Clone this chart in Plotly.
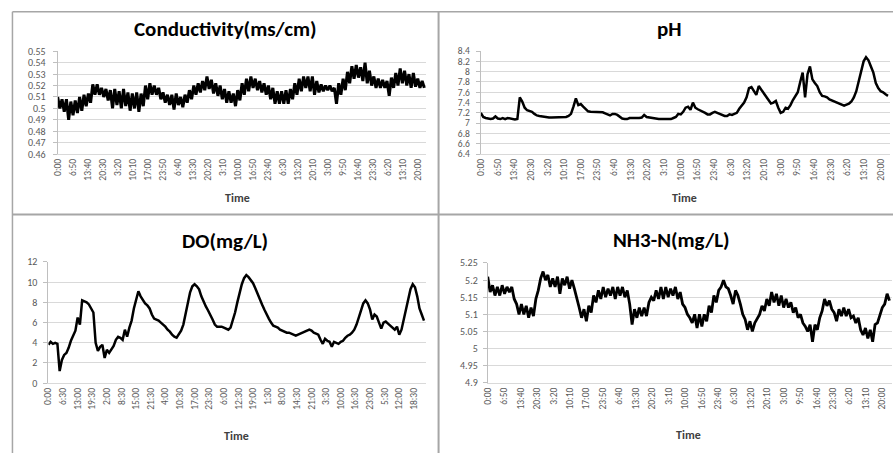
import plotly.graph_objects as go

# ---------------- data (hourly readings) ----------------
time_labels = ["0:00", "6:50", "13:40", "20:30", "3:20", "10:10", "17:00", "23:50", "6:40",
               "13:30", "20:20", "3:10", "10:00", "16:50", "23:40", "6:30", "13:20", "20:10",
               "3:00", "9:50", "16:40", "23:30", "6:20", "13:10", "20:00"]
do_time_labels = ["0:00", "6:30", "13:00", "19:30", "2:00", "8:30", "15:00", "21:30", "4:00",
                  "10:30", "17:00", "23:30", "6:00", "12:30", "19:00", "1:30", "8:00", "14:30",
                  "21:00", "3:30", "10:00", "16:30", "23:00", "5:30", "12:00", "18:30"]

conductivity = [
    0.510, 0.500, 0.508, 0.497, 0.508, 0.490, 0.506, 0.494, 0.507, 0.496, 0.510, 0.498,
    0.512, 0.502, 0.513, 0.505, 0.521, 0.512, 0.521, 0.512, 0.518, 0.510, 0.517, 0.507,
    0.516, 0.500, 0.517, 0.503, 0.515, 0.500, 0.517, 0.502, 0.514, 0.498, 0.513, 0.500,
    0.514, 0.497, 0.513, 0.502, 0.520, 0.508, 0.522, 0.512, 0.520, 0.512, 0.518, 0.508,
    0.514, 0.505, 0.512, 0.503, 0.512, 0.499, 0.513, 0.503, 0.510, 0.501, 0.512, 0.505,
    0.516, 0.508, 0.520, 0.512, 0.522, 0.514, 0.524, 0.516, 0.528, 0.517, 0.525, 0.513,
    0.522, 0.511, 0.520, 0.508, 0.517, 0.505, 0.515, 0.505, 0.513, 0.502, 0.516, 0.507,
    0.522, 0.512, 0.526, 0.515, 0.528, 0.518, 0.526, 0.516, 0.524, 0.514, 0.522, 0.512,
    0.520, 0.508, 0.518, 0.504, 0.515, 0.504, 0.515, 0.504, 0.516, 0.504, 0.517, 0.508,
    0.522, 0.512, 0.526, 0.515, 0.528, 0.518, 0.528, 0.515, 0.528, 0.512, 0.524, 0.514,
    0.521, 0.515, 0.520, 0.516, 0.520, 0.515, 0.518, 0.504, 0.522, 0.512, 0.526, 0.516,
    0.532, 0.522, 0.537, 0.526, 0.538, 0.527, 0.536, 0.524, 0.540, 0.522, 0.533, 0.520,
    0.528, 0.518, 0.526, 0.518, 0.525, 0.518, 0.524, 0.511, 0.527, 0.518, 0.531, 0.520,
    0.535, 0.522, 0.533, 0.520, 0.530, 0.518, 0.531, 0.519, 0.526, 0.518, 0.524, 0.518,
]

ph = [
    7.20, 7.12, 7.10, 7.09, 7.08, 7.09, 7.13, 7.09, 7.08, 7.10, 7.08, 7.10,
    7.09, 7.08, 7.07, 7.08, 7.50, 7.42, 7.30, 7.25, 7.24, 7.22, 7.18, 7.15,
    7.14, 7.13, 7.12, 7.11, 7.11, 7.11, 7.11, 7.11, 7.11, 7.11, 7.11, 7.12,
    7.14, 7.18, 7.32, 7.48, 7.35, 7.37, 7.32, 7.27, 7.23, 7.22, 7.22, 7.22,
    7.22, 7.22, 7.21, 7.19, 7.17, 7.15, 7.18, 7.18, 7.16, 7.12, 7.09, 7.08,
    7.08, 7.10, 7.10, 7.10, 7.09, 7.10, 7.11, 7.16, 7.12, 7.11, 7.10, 7.09,
    7.09, 7.08, 7.08, 7.08, 7.07, 7.08, 7.08, 7.10, 7.12, 7.18, 7.17, 7.22,
    7.30, 7.32, 7.26, 7.40, 7.30, 7.27, 7.25, 7.22, 7.20, 7.17, 7.17, 7.20,
    7.22, 7.20, 7.18, 7.16, 7.14, 7.14, 7.17, 7.16, 7.18, 7.20, 7.28, 7.35,
    7.40, 7.50, 7.68, 7.70, 7.62, 7.55, 7.72, 7.65, 7.60, 7.52, 7.45, 7.38,
    7.40, 7.43, 7.30, 7.20, 7.22, 7.30, 7.28, 7.35, 7.45, 7.52, 7.60, 7.80,
    7.98, 7.50, 7.95, 8.10, 7.85, 7.78, 7.72, 7.60, 7.53, 7.52, 7.50, 7.46,
    7.44, 7.42, 7.40, 7.38, 7.35, 7.34, 7.36, 7.38, 7.42, 7.50, 7.62, 7.80,
    8.00, 8.20, 8.28, 8.22, 8.10, 7.98, 7.78, 7.68, 7.62, 7.60, 7.56, 7.53,
]

do = [
    3.8, 4.1, 3.9, 4.0, 3.9, 1.2, 2.3, 2.8, 3.0, 3.5, 4.2, 4.8,
    5.2, 6.5, 5.8, 8.2, 8.1, 8.0, 7.8, 7.4, 7.0, 4.0, 3.2, 3.6,
    3.8, 2.5, 3.3, 3.0, 3.4, 3.7, 4.3, 4.6, 4.5, 4.3, 5.3, 4.6,
    5.5, 6.2, 7.4, 8.3, 9.1, 8.6, 8.2, 7.9, 7.7, 7.4, 6.8, 6.4,
    6.3, 6.2, 6.0, 5.8, 5.6, 5.3, 5.1, 4.8, 4.6, 4.5, 4.8, 5.2,
    5.8, 7.0, 8.2, 9.0, 9.6, 9.8, 9.6, 9.3, 8.6, 8.0, 7.6, 7.2,
    6.8, 6.3, 5.8, 5.6, 5.6, 5.6, 5.5, 5.4, 5.3, 5.5, 6.2, 7.0,
    8.0, 9.0, 9.8, 10.4, 10.7, 10.5, 10.2, 9.9, 9.4, 8.8, 8.2, 7.8,
    7.3, 6.8, 6.4, 6.0, 5.7, 5.6, 5.5, 5.3, 5.2, 5.1, 5.0, 5.0,
    4.9, 4.8, 4.7, 4.8, 4.9, 5.0, 5.1, 5.2, 5.3, 5.2, 5.0, 4.9,
    4.8, 4.3, 3.9, 4.4, 4.2, 4.1, 3.6, 4.1, 4.0, 3.9, 4.1, 4.2,
    4.5, 4.7, 4.8, 5.0, 5.3, 5.8, 6.5, 7.2, 7.9, 8.2, 7.9, 7.3,
    6.3, 6.8, 6.6, 6.0, 5.4, 6.0, 6.1, 5.9, 5.7, 5.5, 5.3, 5.6,
    4.8, 5.3, 6.3, 7.3, 8.2, 9.3, 9.8, 9.5, 8.6, 7.4, 6.8, 6.2,
]

nh3n = [
    5.21, 5.165, 5.185, 5.155, 5.18, 5.155, 5.185, 5.16, 5.18, 5.165, 5.18, 5.145,
    5.13, 5.10, 5.13, 5.10, 5.125, 5.09, 5.12, 5.095, 5.145, 5.17, 5.205, 5.225,
    5.20, 5.215, 5.18, 5.205, 5.18, 5.21, 5.16, 5.205, 5.185, 5.21, 5.175, 5.20,
    5.175, 5.15, 5.12, 5.09, 5.115, 5.08, 5.125, 5.105, 5.155, 5.135, 5.17, 5.145,
    5.18, 5.15, 5.175, 5.155, 5.18, 5.145, 5.18, 5.155, 5.18, 5.15, 5.17, 5.13,
    5.07, 5.115, 5.09, 5.12, 5.095, 5.12, 5.095, 5.135, 5.15, 5.14, 5.17, 5.145,
    5.18, 5.145, 5.18, 5.15, 5.175, 5.155, 5.18, 5.145, 5.165, 5.13, 5.12, 5.10,
    5.09, 5.075, 5.10, 5.06, 5.10, 5.065, 5.10, 5.08, 5.125, 5.105, 5.155, 5.135,
    5.17, 5.18, 5.20, 5.18, 5.175, 5.155, 5.13, 5.17, 5.155, 5.13, 5.10, 5.085,
    5.055, 5.08, 5.05, 5.075, 5.09, 5.10, 5.125, 5.11, 5.145, 5.125, 5.165, 5.135,
    5.16, 5.125, 5.155, 5.12, 5.145, 5.12, 5.135, 5.105, 5.12, 5.09, 5.10, 5.075,
    5.065, 5.05, 5.07, 5.02, 5.07, 5.055, 5.09, 5.11, 5.145, 5.125, 5.14, 5.115,
    5.105, 5.08, 5.115, 5.095, 5.12, 5.095, 5.115, 5.09, 5.095, 5.075, 5.09, 5.055,
    5.04, 5.06, 5.03, 5.055, 5.02, 5.07, 5.075, 5.10, 5.12, 5.13, 5.16, 5.14,
]

cond_yticks = ["0.46", "0.47", "0.48", "0.49", "0.5", "0.51", "0.52", "0.53", "0.54", "0.55"]
ph_yticks = ["6.4", "6.6", "6.8", "7", "7.2", "7.4", "7.6", "7.8", "8", "8.2", "8.4"]
do_yticks = ["0", "2", "4", "6", "8", "10", "12"]
nh3_yticks = ["4.9", "4.95", "5", "5.05", "5.1", "5.15", "5.2", "5.25"]

titles = ["Conductivity(ms/cm)", "pH", "DO(mg/L)", "NH3-N(mg/L)"]
x_title = "Time"


# ---------------- helpers ----------------
def label_hours(labels):
    """Elapsed hours of each clock label, rolling over midnight."""
    out, day, prev = [], 0, -1
    for lab in labels:
        h, m = lab.split(":")
        mins = int(h) * 60 + int(m)
        if mins < prev:
            day += 1
        prev = mins
        out.append((day * 1440 + mins) / 60.0)
    return out


W, H = 893, 460
FONT = "Carlito, Lato, 'Liberation Sans', sans-serif"
TICKC = "#595959"
GRID = "#d9d9d9"


def px(x):
    return x / W


def py(y):
    return 1 - y / H


panels = [
    # values, x labels, y tick texts, plot box px (x0, x1, ytop, ybottom), line width,
    # y tick font size, y label standoff
    (conductivity, time_labels, cond_yticks, (52, 423, 45.7, 151.7), 3.0, 10, 5),
    (ph, time_labels, ph_yticks, (478, 890, 45.4, 151.7), 2.5, 9.5, 4),
    (do, do_time_labels, do_yticks, (42.7, 422.7, 263.0, 388.0), 2.5, 10, 4),
    (nh3n, time_labels, nh3_yticks, (485, 891.5, 264.0, 387.7), 2.8, 10, 3),
]

fig = go.Figure()
layout = {}
annotations = []
for i, (vals, xl, yl, box, lw, yfs, ystand) in enumerate(panels):
    n = i + 1
    xa = "xaxis" if n == 1 else f"xaxis{n}"
    ya = "yaxis" if n == 1 else f"yaxis{n}"
    hours = list(range(len(vals)))
    fig.add_trace(go.Scatter(
        x=hours, y=vals, mode="lines",
        line=dict(color="black", width=lw),
        xaxis=f"x{n}" if n > 1 else "x", yaxis=f"y{n}" if n > 1 else "y",
        showlegend=False, hoverinfo="skip"))
    x0, x1, yt, yb = box
    yv = [float(t) for t in yl]
    layout[xa] = dict(
        domain=[px(x0), px(x1)], anchor=f"y{n}" if n > 1 else "y",
        range=[0, len(vals) - 1 + 5 / 6], showgrid=False, zeroline=False,
        showline=True, linecolor=GRID, linewidth=1,
        tickmode="array", tickvals=label_hours(xl), ticktext=xl,
        tickangle=-90, ticks="", ticklen=0,
        tickfont=dict(family=FONT, size=9.5, color=TICKC),
    )
    layout[ya] = dict(
        domain=[py(yb), py(yt)], anchor=f"x{n}" if n > 1 else "x",
        range=[yv[0], yv[-1]], showgrid=True, gridcolor=GRID, gridwidth=1,
        zeroline=False, showline=True, linecolor="#bfbfbf", linewidth=1,
        ticks="outside", ticklen=4, tickcolor="#bfbfbf", ticklabelstandoff=ystand,
        tickmode="array", tickvals=yv, ticktext=yl,
        tickfont=dict(family=FONT, size=yfs, color=TICKC),
    )

# titles and axis titles
title_pos = [(221, 23), (668, 23), (220, 241), (670, 240)]
time_pos = [(233, 197), (683, 197), (232, 442), (687, 441)]
for t, (tx, ty) in zip(titles, title_pos):
    annotations.append(dict(text=f"<b>{t}</b>", x=px(tx), y=py(ty), xref="paper", yref="paper",
                            showarrow=False, xanchor="center", yanchor="middle",
                            font=dict(family=FONT, size=21, color="black")))
for (tx, ty) in time_pos:
    annotations.append(dict(text=f"<b>{x_title}</b>", x=px(tx), y=py(ty), xref="paper",
                            yref="paper", showarrow=False, xanchor="center", yanchor="middle",
                            font=dict(family=FONT, size=12, color="#404040")))

BORDER = "#a6a6a6"
shapes = [
    dict(type="line", xref="paper", yref="paper", x0=px(6.5), x1=1, y0=py(5), y1=py(5),
         line=dict(color=BORDER, width=1.5)),
    dict(type="line", xref="paper", yref="paper", x0=px(6.5), x1=px(6.5), y0=py(5), y1=0,
         line=dict(color=BORDER, width=1.5)),
    dict(type="line", xref="paper", yref="paper", x0=px(435.5), x1=px(435.5), y0=py(5), y1=0,
         line=dict(color=BORDER, width=2)),
    dict(type="line", xref="paper", yref="paper", x0=px(6.5), x1=1, y0=py(214), y1=py(214),
         line=dict(color=BORDER, width=2)),
]

fig.update_layout(
    width=W, height=H, margin=dict(l=0, r=0, t=0, b=0),
    paper_bgcolor="white", plot_bgcolor="white",
    annotations=annotations, shapes=shapes, **layout,
)
fig.write_html("out.html",
               config={"displayModeBar": False},
               post_script="document.body.style.margin='0px';"
                           "document.body.style.overflow='hidden';")
